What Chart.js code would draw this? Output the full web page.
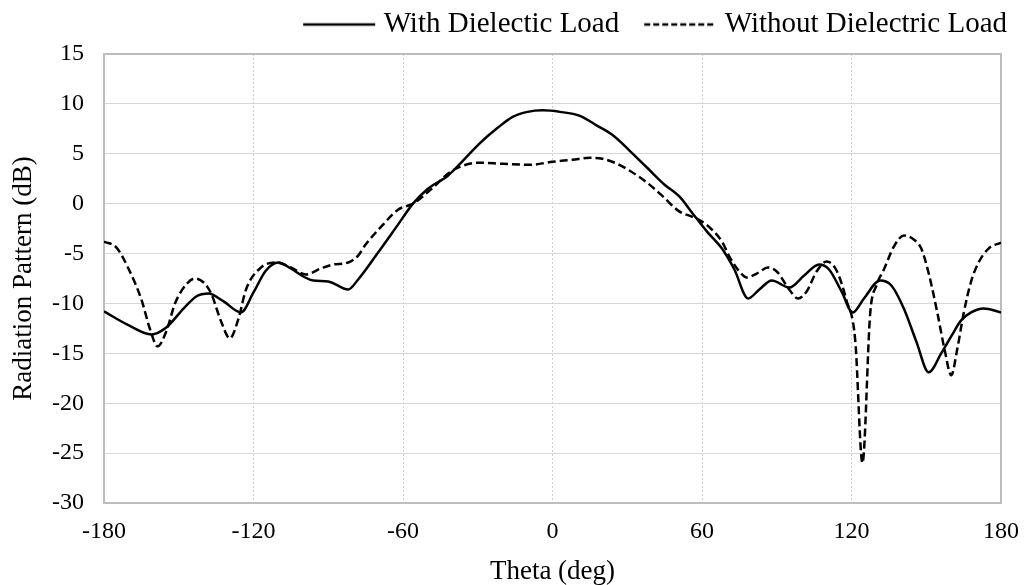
<!DOCTYPE html>
<html>
<head>
<meta charset="utf-8">
<script src="https://cdn.jsdelivr.net/npm/chart.js@4"></script>
<style>
  html, body { margin: 0; padding: 0; background: #fff; }
  #wrap { width: 1026px; height: 585px; }
</style>
</head>
<body>
<div id="wrap"><canvas id="grafico"></canvas></div>
<script>
// Valores (theta em graus, padrão em dB)
const thetaCom = [-180, -170, -161, -155, -148, -143, -138, -132, -125, -120, -115, -110, -105, -100, -96, -90, -82, -78, -70, -62, -56, -50, -42, -36, -29, -22, -16, -10, -4, 3, 11, 18, 24, 31, 38, 45, 51, 56, 62, 68, 73, 78.5, 83, 88, 95, 101, 107, 111, 116, 120.5, 125, 131.5, 136, 141, 146, 151, 156, 160, 164, 168, 173, 180];
const dbCom = [-10.8, -12.2, -13.1, -12.4, -10.5, -9.3, -9.0, -9.8, -10.9, -8.9, -6.7, -5.9, -6.5, -7.3, -7.7, -7.8, -8.6, -7.6, -4.9, -2.1, 0.0, 1.5, 2.8, 4.3, 6.1, 7.6, 8.7, 9.2, 9.35, 9.2, 8.8, 7.8, 6.9, 5.3, 3.6, 1.9, 0.7, -0.9, -2.8, -4.5, -6.6, -9.5, -8.6, -7.7, -8.4, -7.2, -6.1, -6.6, -8.8, -10.9, -9.5, -7.7, -8.2, -10.5, -13.8, -16.9, -15.0, -13.3, -11.7, -10.9, -10.5, -10.9];

const thetaSem = [-180, -175, -170, -165, -161.5, -158.5, -155, -151.5, -147, -143.5, -140, -137, -133, -129.5, -126, -123, -117, -111, -105, -99, -93, -88, -82, -78, -75, -68, -62, -56, -48, -41.5, -36, -30, -20, -9, 0, 8, 15, 20, 25, 31, 38, 44, 51, 56, 60, 64, 68, 71, 75, 78, 82, 86.5, 90, 95, 98.5, 102, 106, 110, 114, 118, 121.5, 124.4, 127.5, 130, 133, 137, 141, 145, 148, 151, 154.5, 157.5, 160, 162.5, 165, 168, 171, 175, 180];
const dbSem = [-3.8, -4.4, -6.6, -9.6, -12.6, -14.3, -12.8, -10.0, -8.1, -7.5, -7.9, -9.0, -11.8, -13.5, -11.5, -8.6, -6.4, -5.9, -6.4, -7.1, -6.5, -6.1, -5.9, -5.2, -4.1, -2.1, -0.6, 0.0, 1.6, 3.1, 3.8, 4.1, 4.0, 3.9, 4.2, 4.4, 4.6, 4.5, 4.1, 3.3, 2.1, 0.8, -0.8, -1.3, -1.8, -2.6, -3.8, -5.3, -6.8, -7.4, -7.0, -6.4, -6.8, -8.6, -9.5, -8.8, -6.8, -5.8, -6.7, -9.7, -13.7, -26.0, -11.0, -8.2, -6.6, -4.3, -3.2, -3.6, -4.5, -7.0, -11.0, -14.8, -17.2, -14.5, -11.0, -7.8, -5.9, -4.5, -3.9];

const nomesSeries = ['With Dielectic Load', 'Without Dielectric Load'];
const ticksX = [-180, -120, -60, 0, 60, 120, 180];
const ticksY = [-30, -25, -20, -15, -10, -5, 0, 5, 10, 15];

const fonte = "'Liberation Serif', 'Times New Roman', serif";

function pontos(xs, ys) {
    return xs.map((x, i) => ({ x: x, y: ys[i] }));
}

// amostra de linha para a legenda (sólida ou tracejada), deslocada para perto do texto
function amostraLinha(tracejado) {
    const c = document.createElement('canvas');
    c.width = 90;
    c.height = 6;
    const g = c.getContext('2d');
    g.strokeStyle = '#000';
    g.lineWidth = 2.5;
    if (tracejado) g.setLineDash([6, 3]);
    g.beginPath();
    g.moveTo(15, 3);
    g.lineTo(87, 3);
    g.stroke();
    return c;
}

// moldura cinza em volta da área do gráfico + ajuste da legenda
const moldura = {
    id: 'moldura',
    afterInit(chart) {
        const legenda = chart.legend;
        const fitOriginal = legenda.fit;
        legenda.fit = function () {
            fitOriginal.call(this);
            this.height = 54;
        };
        const drawOriginal = legenda.draw;
        legenda.draw = function () {
            const ctx = this.ctx;
            ctx.save();
            ctx.translate(0, -9);
            drawOriginal.call(this);
            ctx.restore();
        };
    },
    beforeDatasetsDraw(chart) {
        const a = chart.chartArea;
        const ctx = chart.ctx;
        ctx.save();
        ctx.strokeStyle = '#bdbdbd';
        ctx.lineWidth = 2;
        ctx.setLineDash([]);
        ctx.strokeRect(a.left, a.top, a.right - a.left, a.bottom - a.top);
        ctx.restore();
    }
};

new Chart(document.getElementById('grafico').getContext('2d'), {
    type: 'line',
    data: {
        datasets: [
            {
                label: nomesSeries[0],
                data: pontos(thetaCom, dbCom),
                borderColor: '#000',
                backgroundColor: '#000',
                borderWidth: 2.5,
                pointRadius: 0,
                pointStyle: amostraLinha(false),
                cubicInterpolationMode: 'monotone'
            },
            {
                label: nomesSeries[1],
                data: pontos(thetaSem, dbSem),
                borderColor: '#000',
                backgroundColor: '#000',
                borderWidth: 2.5,
                borderDash: [8, 4],
                pointRadius: 0,
                pointStyle: amostraLinha(true),
                cubicInterpolationMode: 'monotone'
            }
        ]
    },
    options: {
        responsive: true,
        maintainAspectRatio: false,
        animation: false,
        layout: { padding: 0 },
        plugins: {
            legend: {
                position: 'top',
                align: 'end',
                labels: {
                    usePointStyle: true,
                    pointStyleWidth: 72,
                    color: '#000',
                    padding: 19,
                    font: { family: fonte, size: 29 }
                }
            },
            tooltip: { enabled: false }
        },
        scales: {
            x: {
                type: 'linear',
                min: -180,
                max: 180,
                afterBuildTicks: (scale) => { scale.ticks = ticksX.map(v => ({ value: v })); },
                afterFit: (scale) => {
                    scale.height = 82;
                    scale.paddingLeft = 0;
                    scale.paddingRight = 25;
                },
                grid: { color: '#cfcfcf', lineWidth: 1, drawTicks: false },
                border: { display: false, dash: [2, 2] },
                ticks: { color: '#000', padding: 14, font: { family: fonte, size: 24 } },
                title: {
                    display: true,
                    text: 'Theta (deg)',
                    color: '#000',
                    padding: { top: 0, bottom: -3 },
                    font: { family: fonte, size: 27 }
                }
            },
            y: {
                min: -30,
                max: 15,
                afterBuildTicks: (scale) => { scale.ticks = ticksY.map(v => ({ value: v })); },
                afterFit: (scale) => { scale.width = 104; },
                grid: { color: '#d6d6d6', lineWidth: 1, drawTicks: false },
                border: { display: false },
                ticks: { color: '#000', padding: 20, font: { family: fonte, size: 24 } },
                title: {
                    display: true,
                    text: 'Radiation Pattern (dB)',
                    color: '#000',
                    padding: { top: 8, bottom: 0 },
                    font: { family: fonte, size: 27 }
                }
            }
        }
    },
    plugins: [moldura]
});
</script>
</body>
</html>
